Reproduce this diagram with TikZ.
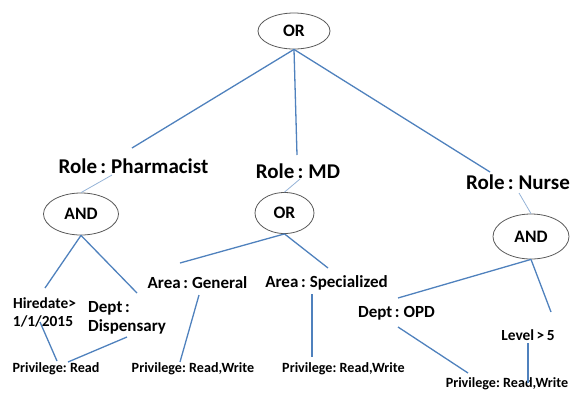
\documentclass[tikz,border=0pt]{standalone}
\usepackage{fontspec}
\setmainfont{Carlito}[WordSpace=0.7]
\usetikzlibrary{shapes.geometric}
\definecolor{conn}{HTML}{4F81BD}
\definecolor{connlight}{HTML}{95B3D7}
\definecolor{ellline}{HTML}{595959}
\begin{document}
\begin{tikzpicture}[x=1pt,y=-1pt,
  gate/.style={ellipse,draw=ellline,line width=0.8pt,inner sep=0pt,font=\fontsize{17.5}{20}\selectfont\bfseries},
  role/.style={inner sep=0pt,anchor=base,font=\fontsize{21}{24}\selectfont\bfseries},
  cond/.style={inner sep=0pt,anchor=base,font=\fontsize{17}{20}\selectfont\bfseries},
  small/.style={inner sep=0pt,anchor=base,font=\fontsize{15.4}{18}\selectfont\bfseries},
  priv/.style={inner sep=0pt,anchor=base,font=\fontsize{14.1}{16}\selectfont\bfseries},
  link/.style={draw=conn,line width=1.3pt},
  thin/.style={draw=connlight,line width=0.8pt}]
\useasboundingbox (0,0) rectangle (571,392);
% gates
\node[gate,minimum width=72pt,minimum height=36pt] (or1) at (294,31) {OR};
\node[gate,minimum width=59pt,minimum height=41pt] (or2) at (284.5,213) {OR};
\node[gate,minimum width=75pt,minimum height=42pt] (and1) at (81,214) {AND};
\node[gate,minimum width=76pt,minimum height=45pt] (and2) at (531,236.5) {AND};
% roles
\node[role] (roleph) at (133.5,173) {Role : Pharmacist};
\node[role] (rolemd) at (298,178) {Role : MD};
\node[role] (rolenu) at (518,189) {Role : Nurse};
% conditions
\node[small] (hire1) at (44.5,308.5) {Hiredate>};
\node[small] (hire2) at (43,326) {1/1/2015};
\node[cond] (dept1) at (109,312) {Dept :};
\node[cond] (dept2) at (127,331) {Dispensary};
\node[cond] (areag) at (197.5,288) {Area : General};
\node[cond] (areas) at (326.5,287) {Area : Specialized};
\node[cond] (deptopd) at (396.5,317) {Dept : OPD};
\node[small] (level) at (528,340) {Level > 5};
% privileges
\node[priv] (p1) at (56,372) {Privilege: Read};
\node[priv] (p2) at (193,372) {Privilege: Read,Write};
\node[priv] (p3) at (343.5,372) {Privilege: Read,Write};
\node[priv] (p4) at (507,387) {Privilege: Read,Write};
% connector ends
\coordinate (phtop) at (132,148);
\coordinate (mdtop) at (297,155);
\coordinate (nutop) at (490,172);
\coordinate (phbot) at (112,175);
\coordinate (mdbot) at (300,179);
\coordinate (nubot) at (519,193);
\coordinate (hiretop) at (45,288);
\coordinate (depttop) at (137,293);
\coordinate (agtop) at (180,263);
\coordinate (astop) at (328,268);
\coordinate (opdtop) at (398,298);
\coordinate (leveltop) at (551,312);
\coordinate (hirebot) at (40,322);
\coordinate (deptbot) at (127,337);
\coordinate (p1a) at (57,361);
\coordinate (p1b) at (68,362);
\coordinate (agbot) at (199,295);
\coordinate (p2top) at (180,362);
\coordinate (asbot) at (312,294);
\coordinate (p3top) at (312,357);
\coordinate (opdbot) at (398,327);
\coordinate (p4a) at (468,373);
\coordinate (levelbot) at (528,343);
\coordinate (p4b) at (528,383);
% connectors
\draw[link] (or1.south) -- (phtop);
\draw[link] (or1.south) -- (mdtop);
\draw[link] (or1.south) -- (nutop);
\draw[thin] (phbot) -- (and1.north);
\draw[thin] (mdbot) -- (or2.north);
\draw[thin] (nubot) -- (and2.north);
\draw[link] (and1.south) -- (hiretop);
\draw[link] (and1.south) -- (depttop);
\draw[link] (or2.south) -- (agtop);
\draw[link] (or2.south) -- (astop);
\draw[link] (and2.south) -- (opdtop);
\draw[link] (and2.south) -- (leveltop);
\draw[link] (hirebot) -- (p1a);
\draw[link] (deptbot) -- (p1b);
\draw[link] (agbot) -- (p2top);
\draw[link] (asbot) -- (p3top);
\draw[link] (opdbot) -- (p4a);
\draw[link] (levelbot) -- (p4b);
\end{tikzpicture}
\end{document}
